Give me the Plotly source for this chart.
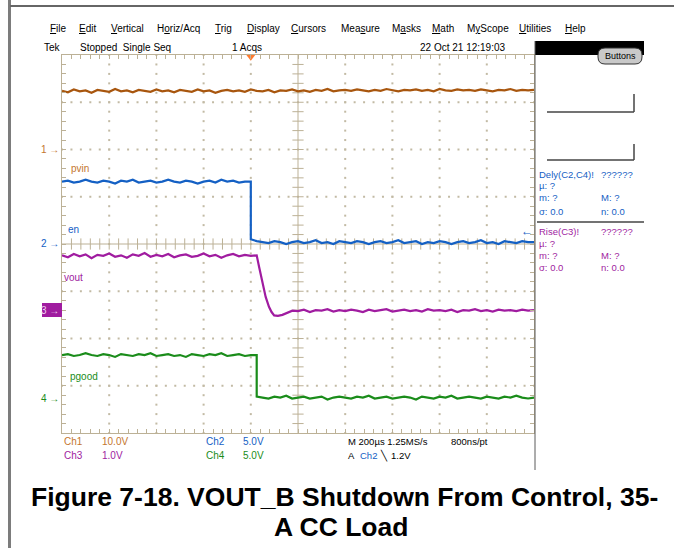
import plotly.graph_objects as go

# ---------------- data ----------------
TIME_PER_DIV_US = 200      # M 200us
TRIGGER_DIV = 4            # trigger position (divisions from left)

channel_names = ["pvin", "en", "vout", "pgood"]
channel_volts_per_div = [10.0, 5.0, 1.0, 5.0]
channel_offset_div = [2.0, 0.0, -1.4, -3.25]

# Ch1 pvin (V)
pvin_t_us = list(range(-800, 1201, 25))
pvin_v = [12.4, 12.1, 12.7, 12.3, 12.5, 12.0, 12.6, 12.4, 12.2, 12.8,
          12.3, 12.5, 12.1, 12.6, 12.4, 12.2, 12.7, 12.3, 12.5, 12.1,
          12.6, 12.4, 12.2, 12.7, 12.3, 12.5, 12.0, 12.4, 12.6, 12.3,
          12.5, 12.2, 12.7, 12.4, 12.3, 12.6, 12.1, 12.5, 12.4, 12.7,
          12.3, 12.5, 12.2, 12.6, 12.4, 12.8, 12.3, 12.5, 12.6, 12.4,
          12.7, 12.5, 12.3, 12.6, 12.4, 12.8, 12.5, 12.3, 12.6, 12.5,
          12.7, 12.4, 12.6, 12.3, 12.8, 12.5, 12.4, 12.7, 12.5, 12.6,
          12.4, 12.7, 12.5, 12.3, 12.6, 12.5, 12.8, 12.4, 12.6, 12.5,
          12.6]

# Ch2 en (V)
en_t_us = list(range(-800, 1, 25)) + list(range(0, 1201, 25))
en_v = [6.6, 6.7, 6.5, 6.6, 6.8, 6.6, 6.5, 6.7, 6.6, 6.4,
        6.7, 6.6, 6.8, 6.5, 6.6, 6.7, 6.5, 6.6, 6.8, 6.6,
        6.5, 6.7, 6.6, 6.4, 6.6, 6.7, 6.5, 6.8, 6.6, 6.7,
        6.5, 6.6, 6.6,
        0.5, 0.3, 0.2, 0.1, 0.3, 0.2, 0.0, 0.2, 0.3, 0.1,
        0.2, 0.4, 0.1, 0.2, 0.0, 0.3, 0.2, 0.1, 0.3, 0.2,
        0.0, 0.2, 0.3, 0.1, 0.2, 0.4, 0.1, 0.2, 0.3, 0.0,
        0.2, 0.1, 0.3, 0.2, 0.0, 0.2, 0.3, 0.1, 0.2, 0.4,
        0.1, 0.2, 0.0, 0.3, 0.2, 0.1, 0.3, 0.2, 0.2]

# Ch3 vout (V)
vout_t_us = (list(range(-800, 26, 25))
             + [35, 49, 63, 77, 88, 99, 115, 134, 155, 176]
             + list(range(200, 1201, 25)))
vout_v = [1.16, 1.12, 1.19, 1.14, 1.18, 1.10, 1.17, 1.15, 1.20, 1.13,
          1.16, 1.11, 1.18, 1.15, 1.21, 1.13, 1.17, 1.14, 1.19, 1.12,
          1.16, 1.18, 1.13, 1.15, 1.20, 1.14, 1.17, 1.11, 1.16, 1.19,
          1.14, 1.17, 1.15, 1.16,
          0.92, 0.56, 0.28, 0.07, -0.04, -0.11, -0.12, -0.10, -0.06, -0.01,
          -0.02, 0.01, -0.04, 0.00, -0.01, 0.02, -0.03, 0.00, -0.02, 0.01,
          -0.01, -0.04, 0.01, -0.02, 0.00, 0.02, -0.03, -0.01, 0.01, -0.02,
          0.00, -0.03, 0.02, -0.01, 0.00, -0.02, 0.01, -0.04, 0.00, -0.01,
          0.02, -0.02, 0.00, -0.03, 0.01, -0.01, 0.00, -0.02, 0.01, -0.01,
          0.00]

# Ch4 pgood (V)
pgood_t_us = list(range(-800, 26, 25)) + list(range(25, 1201, 25))
pgood_v = [4.5, 4.6, 4.4, 4.5, 4.7, 4.5, 4.4, 4.6, 4.5, 4.3,
           4.6, 4.5, 4.4, 4.6, 4.5, 4.7, 4.4, 4.5, 4.6, 4.4,
           4.5, 4.3, 4.6, 4.5, 4.4, 4.6, 4.5, 4.7, 4.4, 4.5,
           4.6, 4.4, 4.5, 4.5,
           0.1, 0.0, -0.1, 0.1, 0.0, 0.2, -0.1, 0.0, 0.1, -0.1,
           0.0, 0.1, -0.2, 0.0, 0.1, 0.0, -0.1, 0.1, 0.0, 0.2,
           -0.1, 0.0, 0.1, -0.1, 0.0, 0.1, 0.0, -0.2, 0.1, 0.0,
           -0.1, 0.1, 0.0, 0.2, -0.1, 0.0, 0.1, 0.0, -0.1, 0.1,
           0.0, -0.1, 0.1, 0.0, 0.2, 0.0, -0.1, 0.0]

# ---------------- styling ----------------
W, H = 674, 548
X0, X1, Y0, Y1 = 62, 534, 55, 433   # plot area in pixels
C_CH1, C_CH1T = "#a8560e", "#c4762e"
C_CH2 = "#1460c4"
C_CH3 = "#a01ca0"
C_CH4 = "#1a8c1a"
GRID = "#bcb196"
DOT = "#c2baa4"
UI_FONT = "Liberation Sans Narrow, Liberation Sans, Arial, sans-serif"
MENU_FONT = "Liberation Sans, Arial, sans-serif"


def PX(x):
    return (x - X0) / (X1 - X0)


def PY(y):
    return (Y1 - y) / (Y1 - Y0)


def to_div_x(ts):
    return [TRIGGER_DIV + t / TIME_PER_DIV_US for t in ts]


def to_div_y(vs, i):
    return [v / channel_volts_per_div[i] + channel_offset_div[i] for v in vs]


fig = go.Figure()

# graticule dots on major division lines
gx, gy = [], []
for k in range(1, 10):
    if k == 5:
        continue
    for m in range(0, 41):
        gx.append(k)
        gy.append(-4 + m * 0.2)
for k in range(-3, 4):
    if k == 0:
        continue
    for m in range(0, 51):
        gx.append(m * 0.2)
        gy.append(k)
fig.add_trace(go.Scatter(x=gx, y=gy, mode="markers", hoverinfo="skip",
                         marker=dict(size=2, color=DOT, symbol="square"),
                         showlegend=False))
# center cross tick marks
cx = [m * 0.2 for m in range(1, 50)]
fig.add_trace(go.Scatter(x=cx, y=[0] * len(cx), mode="markers", hoverinfo="skip",
                         marker=dict(size=8, symbol="line-ns",
                                     line=dict(color=GRID, width=1)),
                         showlegend=False))
cy = [-4 + m * 0.2 for m in range(1, 40)]
fig.add_trace(go.Scatter(x=[5] * len(cy), y=cy, mode="markers", hoverinfo="skip",
                         marker=dict(size=8, symbol="line-ew",
                                     line=dict(color=GRID, width=1)),
                         showlegend=False))

# channel traces
series = [(pvin_t_us, pvin_v, C_CH1), (en_t_us, en_v, C_CH2),
          (vout_t_us, vout_v, C_CH3), (pgood_t_us, pgood_v, C_CH4)]
for i, (ts, vs, col) in enumerate(series):
    fig.add_trace(go.Scatter(x=to_div_x(ts), y=to_div_y(vs, i), mode="lines",
                             name=channel_names[i], showlegend=False,
                             line=dict(color=col, width=2.2)))

# trigger marker
fig.add_trace(go.Scatter(x=[TRIGGER_DIV], y=[4 - 1.2 / 47.25], mode="markers",
                         cliponaxis=False, hoverinfo="skip", showlegend=False,
                         marker=dict(symbol="triangle-down", size=9, color="#ff7a2e")))

shapes = []


def line(x0, y0, x1, y1, color, width=1):
    shapes.append(dict(type="line", xref="paper", yref="paper",
                       x0=PX(x0), y0=PY(y0), x1=PX(x1), y1=PY(y1),
                       line=dict(color=color, width=width)))


def rect(x0, y0, x1, y1, fill, lc=None, lw=0):
    shapes.append(dict(type="rect", xref="paper", yref="paper",
                       x0=PX(x0), y0=PY(y0), x1=PX(x1), y1=PY(y1),
                       fillcolor=fill, line=dict(color=lc or fill, width=lw)))


# center cross lines
shapes.append(dict(type="line", xref="x", yref="y", x0=0, x1=10, y0=0, y1=0,
                   line=dict(color=GRID, width=1), layer="below"))
shapes.append(dict(type="line", xref="x", yref="y", x0=5, x1=5, y0=-4, y1=4,
                   line=dict(color=GRID, width=1), layer="below"))

# page frame
line(9.5, 0, 9.5, 548, "#7c7c7c", 3)
line(10, 6, 674, 6, "#666666", 2)
# right panel
rect(535, 41, 644, 55, "#000000")
line(535, 41, 535, 470, "#5a5a5a", 1)
# Buttons pill (rounded via path)
bx0, bx1, by0, by1, r = 598, 642, 48, 64, 7
path = (f"M {PX(bx0 + r)},{PY(by0)} L {PX(bx1 - r)},{PY(by0)} "
        f"Q {PX(bx1)},{PY(by0)} {PX(bx1)},{PY(by0 + r)} L {PX(bx1)},{PY(by1 - r)} "
        f"Q {PX(bx1)},{PY(by1)} {PX(bx1 - r)},{PY(by1)} L {PX(bx0 + r)},{PY(by1)} "
        f"Q {PX(bx0)},{PY(by1)} {PX(bx0)},{PY(by1 - r)} L {PX(bx0)},{PY(by0 + r)} "
        f"Q {PX(bx0)},{PY(by0)} {PX(bx0 + r)},{PY(by0)} Z")
shapes.append(dict(type="path", xref="paper", yref="paper", path=path,
                   fillcolor="#c9c9c9", line=dict(color="#333333", width=1)))
# brackets
line(634, 94, 634, 112, "#444444", 1.5)
line(547, 112, 634, 112, "#444444", 1.5)
line(634, 144, 634, 160, "#444444", 1.5)
line(547, 160, 634, 160, "#444444", 1.5)
# separator in measurement panel
line(537, 222, 644, 222, "#444444", 1.5)
# channel 3 marker box
rect(42, 303, 62, 317, C_CH3)

annotations = []


def ann(text, x, y, color="#000000", size=10, family=UI_FONT, xanchor="left"):
    annotations.append(dict(text=text, x=PX(x), y=PY(y), xref="paper", yref="paper",
                            xanchor=xanchor, yanchor="middle", showarrow=False,
                            font=dict(size=size, color=color, family=family)))


# menu bar
menu = [("<u>F</u>ile", 48), ("<u>E</u>dit", 77), ("<u>V</u>ertical", 109),
        ("H<u>o</u>riz/Acq", 155), ("<u>T</u>rig", 213), ("<u>D</u>isplay", 245),
        ("<u>C</u>ursors", 289), ("Mea<u>s</u>ure", 339), ("M<u>a</u>sks", 390),
        ("<u>M</u>ath", 430), ("M<u>y</u>Scope", 465), ("<u>U</u>tilities", 517),
        ("<u>H</u>elp", 563)]
for t, x in menu:
    ann(t, x, 28, "#000000", 10, MENU_FONT)
ann("Tek", 42, 47, size=10)
ann("Stopped  Single Seq", 78, 47, size=10)
ann("1 Acqs", 230, 47, size=10)
ann("22 Oct 21 12:19:03", 418, 47, size=10)
ann("Buttons", 620, 56, "#000000", 9, MENU_FONT, xanchor="center")

# channel ground markers
ann("1 →", 61, 149.5, C_CH1T, 10, xanchor="right")
ann("2 →", 61, 243, C_CH2, 10, xanchor="right")
ann("3 →", 61, 310, "#f0d0f0", 10, xanchor="right")
ann("4 →", 61, 398, C_CH4, 10, xanchor="right")
ann("←", 535, 231, C_CH2, 12, xanchor="right")

# trace labels
ann("pvin", 69, 168, C_CH1T, 10)
ann("en", 66, 230, C_CH2, 10)
ann("vout", 62, 277, C_CH3, 10)
ann("pgood", 68, 376, C_CH4, 10)

# measurement panel
ann("Dely(C2,C4)!", 537, 174, C_CH2, 9.5)
ann("??????", 599, 174, C_CH2, 9.5)
ann("µ: ?", 537, 186, C_CH2, 9.5)
ann("m: ?", 537, 198, C_CH2, 9.5)
ann("M: ?", 599, 198, C_CH2, 9.5)
ann("σ: 0.0", 537, 211, C_CH2, 9.5)
ann("n: 0.0", 599, 211, C_CH2, 9.5)
ann("Rise(C3)!", 537, 231, C_CH3, 9.5)
ann("??????", 599, 231, C_CH3, 9.5)
ann("µ: ?", 537, 243, C_CH3, 9.5)
ann("m: ?", 537, 255, C_CH3, 9.5)
ann("M: ?", 599, 255, C_CH3, 9.5)
ann("σ: 0.0", 537, 267, C_CH3, 9.5)
ann("n: 0.0", 599, 267, C_CH3, 9.5)

# bottom status lines
ann("Ch1", 62, 442, C_CH1T, 10)
ann("10.0V", 100, 442, C_CH1T, 10)
ann("Ch2", 204, 442, C_CH2, 10)
ann("5.0V", 241, 442, C_CH2, 10)
ann("M 200µs 1.25MS/s", 346, 442, "#000000", 9.5)
ann("800ns/pt", 449, 442, "#000000", 9.5)
ann("Ch3", 62, 455, C_CH3, 10)
ann("1.0V", 100, 455, C_CH3, 10)
ann("Ch4", 204, 455, C_CH4, 10)
ann("5.0V", 241, 455, C_CH4, 10)
ann("A", 346, 455, "#000000", 9.5)
ann("Ch2", 358, 455, C_CH2, 9.5)
ann("╲", 378, 455, "#000000", 9.5)
ann("1.2V", 389, 455, "#000000", 9.5)

# figure caption
ann("<b>Figure 7-18. VOUT_B Shutdown From Control, 35-</b>", 344, 497, "#000000", 26.5,
    "Liberation Sans, Arial, sans-serif", xanchor="center")
ann("<b>A CC Load</b>", 341, 527, "#000000", 26.5,
    "Liberation Sans, Arial, sans-serif", xanchor="center")

axis_common = dict(showgrid=False, zeroline=False, showticklabels=False,
                   showline=True, linecolor=GRID, linewidth=1, mirror="ticks",
                   ticks="inside", ticklen=4, tickcolor=GRID, tickwidth=1,
                   tickmode="linear", dtick=0.2, fixedrange=True)

fig.update_layout(
    width=W, height=H,
    margin=dict(l=X0, r=W - X1, t=Y0, b=H - Y1, pad=0),
    paper_bgcolor="#ffffff", plot_bgcolor="#ffffff",
    xaxis=dict(range=[0, 10], tick0=0, **axis_common),
    yaxis=dict(range=[-4, 4], tick0=-4, **axis_common),
    shapes=shapes, annotations=annotations, showlegend=False,
    hovermode=False,
)

fig.write_html("out.html",
               config={"displayModeBar": False, "staticPlot": True},
               post_script="document.body.style.margin='0';"
                           "document.body.style.overflow='hidden';")
